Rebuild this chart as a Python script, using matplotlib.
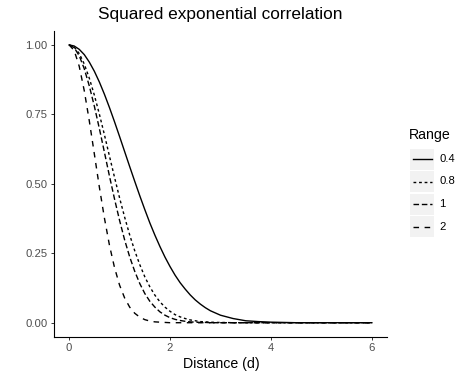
import matplotlib
matplotlib.use("Agg")
import matplotlib.pyplot as plt
from matplotlib.patches import Rectangle

plt.rcParams["font.family"] = ["Liberation Sans", "DejaVu Sans"]

# values
distance = [0.0, 0.1, 0.2, 0.3, 0.4, 0.5, 0.6, 0.7, 0.8, 0.9,
            1.0, 1.1, 1.2, 1.3, 1.4, 1.5, 1.6, 1.7, 1.8, 1.9,
            2.0, 2.1, 2.2, 2.3, 2.4, 2.5, 2.6, 2.7, 2.8, 2.9,
            3.0, 3.25, 3.5, 3.75, 4.0, 4.5, 5.0, 6.0]
corr_04 = [1.000, 0.996, 0.984, 0.965, 0.938, 0.905, 0.866, 0.822, 0.774, 0.723,
           0.670, 0.616, 0.562, 0.509, 0.457, 0.407, 0.359, 0.315, 0.274, 0.236,
           0.202, 0.171, 0.144, 0.121, 0.100, 0.082, 0.067, 0.054, 0.043, 0.035,
           0.027, 0.015, 0.007, 0.004, 0.002, 0.000, 0.000, 0.000]
corr_08 = [1.000, 0.992, 0.969, 0.931, 0.880, 0.819, 0.750, 0.676, 0.599, 0.523,
           0.449, 0.380, 0.316, 0.259, 0.209, 0.165, 0.129, 0.099, 0.075, 0.056,
           0.041, 0.029, 0.021, 0.015, 0.010, 0.007, 0.004, 0.003, 0.002, 0.001,
           0.001, 0.000, 0.000, 0.000, 0.000, 0.000, 0.000, 0.000]
corr_1 = [1.000, 0.990, 0.961, 0.914, 0.852, 0.779, 0.698, 0.613, 0.527, 0.445,
          0.368, 0.298, 0.237, 0.185, 0.141, 0.105, 0.077, 0.056, 0.039, 0.027,
          0.018, 0.012, 0.008, 0.005, 0.003, 0.002, 0.001, 0.001, 0.000, 0.000,
          0.000, 0.000, 0.000, 0.000, 0.000, 0.000, 0.000, 0.000]
corr_2 = [1.000, 0.980, 0.923, 0.835, 0.726, 0.607, 0.487, 0.376, 0.278, 0.198,
          0.135, 0.089, 0.056, 0.034, 0.020, 0.011, 0.006, 0.003, 0.002, 0.001,
          0.000, 0.000, 0.000, 0.000, 0.000, 0.000, 0.000, 0.000, 0.000, 0.000,
          0.000, 0.000, 0.000, 0.000, 0.000, 0.000, 0.000, 0.000]

range_labels = ["0.4", "0.8", "1", "2"]
series = [corr_04, corr_08, corr_1, corr_2]
x_ticks = [0, 2, 4, 6]
y_ticks = [0.00, 0.25, 0.50, 0.75, 1.00]

dash_styles = [None, (2, 2), (4, 2), (4, 4)]

W, H = 470, 380
fig = plt.figure(figsize=(W / 100, H / 100), dpi=100)
ax = fig.add_axes([54 / W, 1 - 336.6 / H, (387 - 54) / W, (336.6 - 31) / H])

for vals, dash in zip(series, dash_styles):
    line, = ax.plot(distance, vals, color="black", lw=1.0)
    if dash:
        line.set_dashes(dash)

ax.set_xlim(-0.3, 6.3)
ax.set_ylim(-0.05, 1.05)
ax.set_xticks(x_ticks)
ax.set_xticklabels([str(t) for t in x_ticks])
ax.set_yticks(y_ticks)
ax.set_yticklabels([f"{t:.2f}" for t in y_ticks])
for s in ["top", "right"]:
    ax.spines[s].set_visible(False)
for s in ["left", "bottom"]:
    ax.spines[s].set_linewidth(0.8)
ax.tick_params(length=2.5, width=0.7, color="#333333", labelcolor="#4D4D4D",
               labelsize=8.1, pad=2)

fig.text(220 / W, 1 - 14 / H, "Squared exponential correlation",
         ha="center", va="center", fontsize=12.4)
fig.text(221 / W, 1 - 364 / H, "Distance (d)", ha="center", va="center",
         fontsize=10.2)

# legend drawn in pixel coordinates
lg = fig.add_axes([0, 0, 1, 1])
lg.set_xlim(0, W)
lg.set_ylim(H, 0)
lg.axis("off")
lg.text(409, 135, "Range", ha="left", va="center", fontsize=10.2)
for i, (lab, dash) in enumerate(zip(range_labels, dash_styles)):
    yc = 159 + i * 22.5
    lg.add_patch(Rectangle((410, yc - 10.5), 24, 21, facecolor="#F2F2F2",
                           edgecolor="none"))
    line, = lg.plot([412.5, 431.5], [yc, yc], color="black", lw=1.0)
    if dash:
        line.set_dashes(dash)
    lg.text(439, yc, lab, ha="left", va="center", fontsize=8.1)

fig.savefig("out.png", dpi=100)
